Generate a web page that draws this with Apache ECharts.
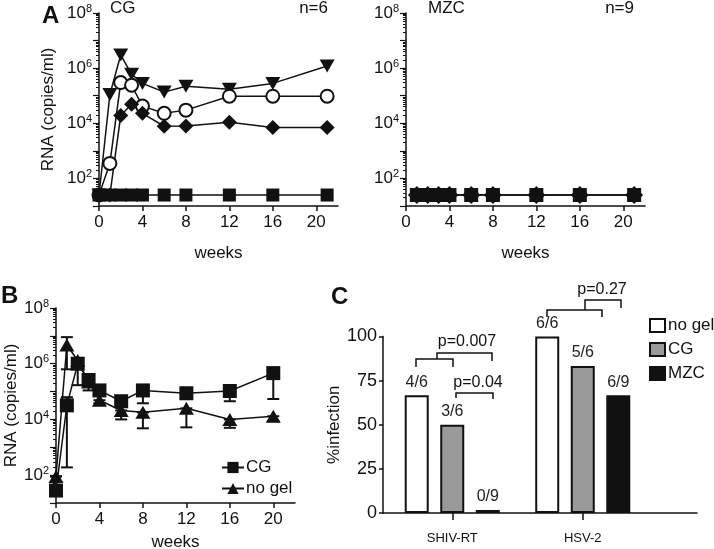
<!DOCTYPE html>
<html>
<head>
<meta charset="utf-8">
<script src="https://cdn.jsdelivr.net/npm/echarts@6.0.0/dist/echarts.min.js"></script>
<style>
  html, body { margin: 0; padding: 0; background: #fff; }
  #chart { width: 714px; height: 549px; }
</style>
</head>
<body>
<div id="chart"></div>
<script>
// ---- panel A: viral RNA per animal, CG group (n=6) ----
const weeksA = [0, 1, 2, 3, 4, 6, 8, 12, 16, 21]
const cgTriangle = [25, 1.1e5, 3e6, 6e5, 2.8e5, 1.35e5, 2.2e5, 1.7e5, 2.8e5, 1.2e6]
const cgCircle = [25, 350, 3e5, 2.4e5, 4.2e4, 2.3e4, 3e4, 9.6e4, 9.6e4, 9.6e4]
const cgDiamond = [25, 25, 1.9e4, 4.9e4, 2.3e4, 7.8e3, 8e3, 1.1e4, 7e3, 7e3]
const cgSquare = [25, 25, 25, 25, 25, 25, 25, 25, 25, 25]

// ---- panel A: MZC group (n=9), all below detection ----
const weeksMzc = [1, 2, 3, 4, 6, 8, 12, 16, 21]
const mzcAll = [25, 25, 25, 25, 25, 25, 25, 25, 25]

// ---- panel B: group means with error bars ----
const weeksB = [0, 1, 2, 3, 4, 6, 8, 12, 16, 20]
const cgMean = [28, 3.2e4, 1e6, 2.6e5, 1.1e5, 4.5e4, 1.1e5, 8.7e4, 1.05e5, 4.6e5]
const cgLow = [28, 190, 1.7e5, 1.1e5, 1.1e5, 4.5e4, 3.8e4, 8.7e4, 4.5e4, 5.4e4]
const cgHigh = [28, 6.3e4, 1e6, 2.6e5, 1.1e5, 4.5e4, 1.1e5, 8.7e4, 1.05e5, 4.6e5]
const noGelMean = [90, 4.7e6, 1.3e6, 2.2e5, 4.9e4, 2.1e4, 1.8e4, 2.5e4, 1e4, 1.3e4]
const noGelLow = [90, 6.3e5, 1.3e6, 2.2e5, 3.8e4, 1e4, 4.8e3, 5.2e3, 5e3, 8.7e3]
const noGelHigh = [90, 9e6, 1.3e6, 2.2e5, 4.9e4, 2.1e4, 1.8e4, 2.5e4, 1e4, 1.3e4]

// ---- panel C: % infection ----
const virusC = ['SHIV-RT', 'HSV-2']
const noGelPct = [66.7, 100]
const cgPct = [50, 83.3]
const mzcPct = [0, 66.7]
const noGelFrac = ['4/6', '6/6']
const cgFrac = ['3/6', '5/6']
const mzcFrac = ['0/9', '6/9']

const yLogLabels = [2, 4, 6, 8]
const xWeekTicks = [0, 4, 8, 12, 16, 20]

const FONT = 'Liberation Sans, Arial, Helvetica, sans-serif'
const lg = v => Math.log10(v)
const toXY = (xs, ys) => xs.map((x, i) => [x, lg(ys[i])])

// decade ticks and 2..9 minor ticks, in log10 units
const majorTicks = [1, 2, 3, 4, 5, 6, 7, 8]
const minorTicks = []
for (let n = 1; n < 8; n++) {
  for (let k = 2; k <= 9; k++) minorTicks.push(n + lg(k))
}

const supRich = {
  b: { fontSize: 17, fontFamily: FONT, color: '#111', lineHeight: 20 },
  s: { fontSize: 11, fontFamily: FONT, color: '#111', verticalAlign: 'top', lineHeight: 12 }
}

function weeksAxis(gridIndex, nameGap) {
  return {
    type: 'value', gridIndex: gridIndex, min: 0, max: 22,
    name: 'weeks', nameLocation: 'middle', nameGap: nameGap,
    nameTextStyle: { fontSize: 17, fontFamily: FONT, color: '#111' },
    axisLine: { show: true, onZero: false, lineStyle: { color: '#111', width: 1.5 } },
    axisTick: { show: true, length: 5, customValues: xWeekTicks, lineStyle: { color: '#111', width: 1.5 } },
    axisLabel: { customValues: xWeekTicks, margin: 8, fontSize: 17, fontFamily: FONT, color: '#111' },
    splitLine: { show: false }
  }
}

function logAxisMajor(gridIndex, name, nameGap) {
  return {
    type: 'value', gridIndex: gridIndex, position: 'left', min: 1, max: 8,
    name: name, nameLocation: 'middle', nameGap: nameGap,
    nameTextStyle: { fontSize: 17, fontFamily: FONT, color: '#111' },
    axisLine: { show: true, onZero: false, lineStyle: { color: '#111', width: 1.5 } },
    axisTick: { show: true, length: 6, customValues: majorTicks, lineStyle: { color: '#111', width: 1.2 } },
    axisLabel: {
      customValues: yLogLabels, margin: 7,
      formatter: v => '{b|10}{s|' + v + '}',
      rich: supRich
    },
    splitLine: { show: false }
  }
}

function logAxisMinor(gridIndex) {
  return {
    type: 'value', gridIndex: gridIndex, position: 'left', offset: 0, min: 1, max: 8,
    axisLine: { show: false },
    axisTick: { show: true, inside: false, length: 3, customValues: minorTicks, lineStyle: { color: '#111', width: 1 } },
    axisLabel: { show: false },
    splitLine: { show: false }
  }
}

function lineSeries(name, xi, yi, data, symbol, size, extra) {
  return Object.assign({
    name: name, type: 'line', xAxisIndex: xi, yAxisIndex: yi,
    data: data, symbol: symbol, symbolSize: size,
    lineStyle: { color: '#111', width: 1.5 },
    itemStyle: { color: '#111' },
    emphasis: { disabled: true }
  }, extra || {})
}

function errorBars(xi, yi, xs, lows, highs) {
  return {
    type: 'custom', xAxisIndex: xi, yAxisIndex: yi, z: 1,
    data: xs.map((x, i) => [x, lg(lows[i]), lg(highs[i])]),
    renderItem: function (params, api) {
      const lo = api.coord([api.value(0), api.value(1)])
      const hi = api.coord([api.value(0), api.value(2)])
      const w = 6
      const st = { stroke: '#111', lineWidth: 2 }
      return {
        type: 'group',
        children: [
          { type: 'line', shape: { x1: lo[0], y1: lo[1], x2: hi[0], y2: hi[1] }, style: st },
          { type: 'line', shape: { x1: lo[0] - w, y1: lo[1], x2: lo[0] + w, y2: lo[1] }, style: st },
          { type: 'line', shape: { x1: hi[0] - w, y1: hi[1], x2: hi[0] + w, y2: hi[1] }, style: st }
        ]
      }
    }
  }
}

function barSeries(name, values, fracs, color) {
  return {
    name: name, type: 'bar', xAxisIndex: 3, yAxisIndex: 6,
    data: values, barWidth: 24, barGap: '48%', barMinHeight: 3,
    itemStyle: { color: color, borderColor: '#111', borderWidth: 2 },
    label: {
      show: true, position: 'top', distance: 5,
      formatter: p => fracs[p.dataIndex],
      fontSize: 16, fontFamily: FONT, color: '#222'
    },
    emphasis: { disabled: true }
  }
}

const chart = echarts.init(document.getElementById('chart'), null, { renderer: 'canvas' })

const txt = (x, y, s, size, align, bold) => ({
  type: 'text', x: x, y: y,
  style: {
    text: s, fill: '#111', align: align || 'left', verticalAlign: 'middle',
    font: (bold ? 'bold ' : '') + size + 'px ' + FONT
  }
})
const bracket = pts => ({
  type: 'polyline', shape: { points: pts },
  style: { stroke: '#111', lineWidth: 1.5, fill: null }
})

chart.setOption({
  animation: false,
  backgroundColor: '#fff',
  grid: [
    { left: 99, top: 13, width: 239, height: 193, outerBoundsMode: 'none' },
    { left: 406, top: 13, width: 239, height: 193, outerBoundsMode: 'none' },
    { left: 56, top: 308, width: 239, height: 195, outerBoundsMode: 'none' },
    { left: 387, top: 336.5, width: 261, height: 176.5, outerBoundsMode: 'none' },
    { left: 383, top: 336.5, width: 314, height: 176.5, outerBoundsMode: 'none' }
  ],
  xAxis: [
    weeksAxis(0, 39),
    weeksAxis(1, 39),
    weeksAxis(2, 31),
    {
      type: 'category', gridIndex: 3, data: virusC,
      axisLine: { show: false },
      axisTick: { show: true, alignWithLabel: true, length: 7, lineStyle: { color: '#111', width: 1.5 } },
      axisLabel: { margin: 19, fontSize: 13, fontFamily: FONT, color: '#111' }
    },
    {
      type: 'value', gridIndex: 4, min: 0, max: 1,
      axisLine: { show: true, onZero: false, lineStyle: { color: '#111', width: 1.5 } },
      axisTick: { show: false }, axisLabel: { show: false }, splitLine: { show: false }
    }
  ],
  yAxis: [
    logAxisMajor(0, 'RNA (copies/ml)', 42),
    logAxisMinor(0),
    logAxisMajor(1, '', 0),
    logAxisMinor(1),
    logAxisMajor(2, 'RNA (copies/ml)', 34),
    logAxisMinor(2),
    { type: 'value', gridIndex: 3, min: 0, max: 100, show: false },
    {
      type: 'value', gridIndex: 4, position: 'left', min: 0, max: 100, interval: 25,
      name: '%infection', nameLocation: 'middle', nameGap: 33,
      nameTextStyle: { fontSize: 17, fontFamily: FONT, color: '#111' },
      axisLine: { show: true, onZero: false, lineStyle: { color: '#111', width: 1.5 } },
      axisTick: { show: true, length: 4, lineStyle: { color: '#111', width: 1.5 } },
      axisLabel: { margin: 6, fontSize: 18, fontFamily: FONT, color: '#111' },
      splitLine: { show: false }
    }
  ],
  legend: [
    {
      data: ['CG (B)', 'no gel (B)'], orient: 'vertical', left: 216, top: 454,
      itemWidth: 22, itemHeight: 14, itemGap: 4,
      formatter: n => n.replace(' (B)', ''),
      textStyle: { fontSize: 17, fontFamily: FONT, color: '#111', padding: [0, 0, 0, -3] },
      selectedMode: false
    },
    {
      data: ['no gel', 'CG', 'MZC'], orient: 'vertical', left: 644, top: 312,
      icon: 'rect', itemWidth: 15, itemHeight: 13, itemGap: 7,
      textStyle: { fontSize: 17, fontFamily: FONT, color: '#111', padding: [0, 0, 0, -2] },
      selectedMode: false
    }
  ],
  series: [
    // A, CG
    lineSeries('cg-tri', 0, 0, toXY(weeksA, cgTriangle), 'triangle', [15, 13], { symbolRotate: 180 }),
    lineSeries('cg-circ', 0, 0, toXY(weeksA, cgCircle), 'circle', 13,
      { itemStyle: { color: '#fff', borderColor: '#111', borderWidth: 2 } }),
    lineSeries('cg-dia', 0, 0, toXY(weeksA, cgDiamond), 'diamond', [15, 15]),
    lineSeries('cg-sq', 0, 0, toXY(weeksA, cgSquare), 'rect', 13),
    // A, MZC
    lineSeries('mzc-dia', 1, 2, toXY(weeksMzc, mzcAll), 'diamond', [18, 18]),
    lineSeries('mzc-sq', 1, 2, toXY(weeksMzc, mzcAll), 'rect', 14),
    // B
    errorBars(2, 4, weeksB, cgLow, cgHigh),
    errorBars(2, 4, weeksB, noGelLow, noGelHigh),
    lineSeries('no gel (B)', 2, 4, toXY(weeksB, noGelMean), 'triangle', [15, 13], { z: 3 }),
    lineSeries('CG (B)', 2, 4, toXY(weeksB, cgMean), 'rect', 14, { z: 4 }),
    // C
    barSeries('no gel', noGelPct, noGelFrac, '#fff'),
    barSeries('CG', cgPct, cgFrac, '#9a9a9a'),
    barSeries('MZC', mzcPct, mzcFrac, '#111')
  ],
  graphic: [
    txt(42, 16, 'A', 24, 'left', true),
    txt(1, 296, 'B', 24, 'left', true),
    txt(331, 297, 'C', 24, 'left', true),
    txt(110, 8, 'CG', 17),
    txt(328, 8, 'n=6', 17, 'right'),
    txt(428, 8, 'MZC', 17),
    txt(634, 8, 'n=9', 17, 'right'),
    bracket([[416, 367], [416, 359], [453, 359], [453, 367]]),
    bracket([[437, 359], [437, 353], [492, 353], [492, 361]]),
    bracket([[456, 398], [456, 393], [493, 393], [493, 399]]),
    bracket([[547, 317], [547, 310], [602, 310], [602, 317]]),
    bracket([[585, 310], [585, 300], [621, 300], [621, 308]]),
    txt(467, 342, 'p=0.007', 16, 'center'),
    txt(478, 383, 'p=0.04', 16, 'center'),
    txt(602, 290, 'p=0.27', 16, 'center')
  ]
})
</script>
</body>
</html>
